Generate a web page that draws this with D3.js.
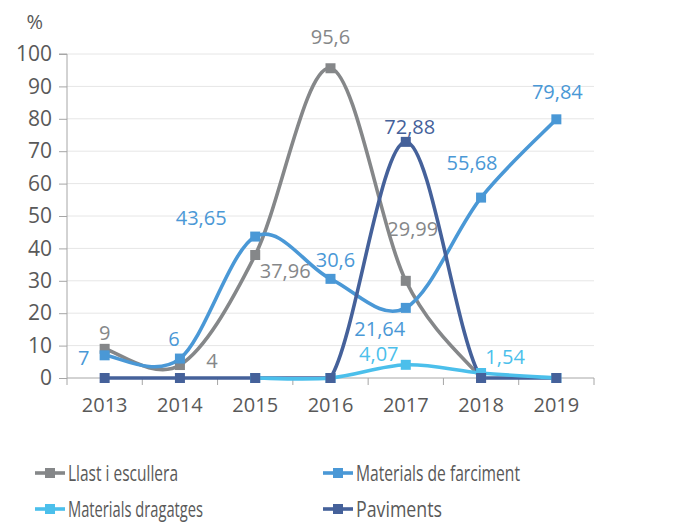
<!DOCTYPE html>
<html><head><meta charset="utf-8">
<script src="https://cdn.jsdelivr.net/npm/d3@7"></script>
<style>body{margin:0;background:#fff}svg text{font-family:"Open Sans",sans-serif}</style>
</head><body><svg id="c" width="700" height="522"></svg>
<script>
const years = ["2013","2014","2015","2016","2017","2018","2019"];
const yTicks = [0,10,20,30,40,50,60,70,80,90,100];
const llast = [9,4,37.96,95.6,29.99,0,null];
const farciment = [7,6,43.65,30.6,21.64,55.68,79.84];
const dragatges = [null,null,0,0,4.07,1.54,0];
const paviments = [0,0,0,0,72.88,0,0];
const seriesNames = ["Llast i escullera","Materials de farciment","Materials dragatges","Paviments"];
const colors = ["#858789","#4a98d6","#4bbfeb","#45619a"];
// labels: [seriesIndex, yearIndex, text, dx, dy]
const labelTexts = [
 [0,0,"9",0,-16],[0,1,"4",32,-4],[0,2,"37,96",30,16],[0,3,"95,6",0,-31],[0,4,"29,99",7,-52],
 [1,0,"7",-21,3],[1,1,"6",-6,-20],[1,2,"43,65",-54,-19],[1,3,"30,6",5,-19],[1,4,"21,64",-26,21],[1,5,"55,68",-9,-35],[1,6,"79,84",1,-27],
 [2,4,"4,07",-27,-11],[2,5,"1,54",24,-16],
 [3,4,"72,88",4,-15]
];
const data = [llast, farciment, dragatges, paviments];
const lineOrder = [0,1,3,2];
const markerOrder = [0,1,2,3];

const svg = d3.select("#c");
const x = d3.scaleBand().domain(years).range([67,594]);
const y = d3.scaleLinear().domain([0,100]).range([378,54]);

svg.append("g").selectAll("line").data(yTicks.filter(d=>d>0)).join("line")
  .attr("x1",67).attr("x2",594).attr("y1",d=>y(d)).attr("y2",d=>y(d))
  .attr("stroke","#e6e6e6").attr("stroke-width",1);

const yAxis = svg.append("g").attr("transform","translate(67,0)")
  .call(d3.axisLeft(y).tickValues(yTicks).tickSize(8).tickPadding(7).tickFormat(d3.format("d")));
yAxis.select(".domain").attr("stroke","#a6a6a6").attr("d","M-8,"+y(100)+"H0V"+y(0));
yAxis.selectAll(".tick line").attr("stroke","#a6a6a6");
yAxis.selectAll("text").attr("fill","#595959").attr("font-size",21);

const xAxis = svg.append("g").attr("transform","translate(0,378)")
  .call(d3.axisBottom(x).tickSize(0).tickPadding(20));
xAxis.select(".domain").attr("stroke","#a6a6a6").attr("d","M67,0H594");
xAxis.selectAll("text").attr("fill","#595959").attr("font-size",20);
svg.append("g").selectAll("line").data(d3.range(years.length+1)).join("line")
  .attr("x1",i=>67+i*x.step()).attr("x2",i=>67+i*x.step()).attr("y1",378).attr("y2",385)
  .attr("stroke","#a6a6a6");

svg.append("text").attr("x",43).attr("y",29).attr("text-anchor","end")
  .attr("fill","#595959").attr("font-size",20).text("%");

const cx = i => x(years[i]) + x.bandwidth()/2;

// Excel-like smoothed line: Catmull-Rom tangents, arms dropped when too long for the segment
function smoothPath(pts){
  const p = d3.path();
  const n = pts.length;
  if(!n) return "";
  p.moveTo(pts[0][0],pts[0][1]);
  const tan = pts.map((q,i)=>{
    const a = pts[Math.max(0,i-1)], b = pts[Math.min(n-1,i+1)];
    return [(b[0]-a[0])/6,(b[1]-a[1])/6];
  });
  const arm = (t,seg)=> Math.hypot(t[0],t[1]) > seg/2 ? 0 : 1;
  for(let i=0;i<n-1;i++){
    const a=pts[i], b=pts[i+1];
    const seg = Math.hypot(b[0]-a[0],b[1]-a[1]);
    const ka = arm(tan[i],seg), kb = arm(tan[i+1],seg);
    p.bezierCurveTo(a[0]+tan[i][0]*ka, a[1]+tan[i][1]*ka,
                    b[0]-tan[i+1][0]*kb, b[1]-tan[i+1][1]*kb, b[0], b[1]);
  }
  return p.toString();
}

const ptsOf = k => data[k].map((v,i)=>({v,i})).filter(d=>d.v!=null);

lineOrder.forEach(k=>{
  svg.append("path").attr("d",smoothPath(ptsOf(k).map(d=>[cx(d.i),y(d.v)])))
    .attr("fill","none").attr("stroke",colors[k]).attr("stroke-width",3.6);
});
markerOrder.forEach(k=>{
  svg.append("g").selectAll("rect").data(ptsOf(k)).join("rect")
    .attr("x",d=>cx(d.i)-5).attr("y",d=>y(d.v)-5).attr("width",10).attr("height",10)
    .attr("fill",colors[k]);
});

svg.append("g").selectAll("text").data(labelTexts).join("text")
  .attr("x",d=>cx(d[1])+d[3]).attr("y",d=>y(data[d[0]][d[1]])+d[4]+7)
  .attr("text-anchor","middle").attr("font-size",20)
  .attr("fill",d=>colors[d[0]]).text(d=>d[2]);

const legPos = [[35,473],[323,473],[35,509],[323,509]];
const legW = [110,164,135,86];
seriesNames.forEach((n,k)=>{
  const g = svg.append("g").attr("transform",`translate(${legPos[k][0]},${legPos[k][1]})`);
  g.append("line").attr("x1",0).attr("x2",30).attr("y1",0).attr("y2",0).attr("stroke",colors[k]).attr("stroke-width",3.6);
  g.append("rect").attr("x",10).attr("y",-5).attr("width",10).attr("height",10).attr("fill",colors[k]);
  g.append("text").attr("x",33).attr("y",8).attr("font-size",22).attr("fill","#595959")
    .attr("textLength",legW[k]).attr("lengthAdjust","spacingAndGlyphs").text(n);
});
</script></body></html>
